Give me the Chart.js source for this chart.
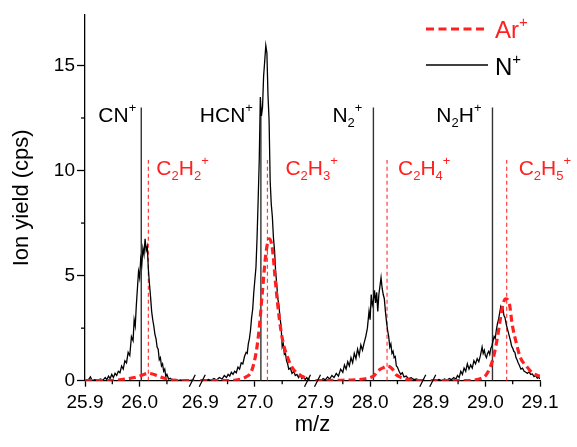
<!DOCTYPE html>
<html><head><meta charset="utf-8">
<script src="https://cdn.jsdelivr.net/npm/chart.js@4.4.1/dist/chart.umd.min.js"></script>
<style>html,body{margin:0;padding:0;background:#fff;}canvas{display:block;}</style>
</head><body>
<canvas id="c" width="577" height="447"></canvas>
<script>
// ---- axis definition (broken x axis: four 0.2-wide windows) ----
const segStarts = [25.9, 26.9, 27.9, 28.9];
const segSpan = 0.2;
const xTickMz = [25.9, 26.0, 26.9, 27.0, 27.9, 28.0, 28.9, 29.0, 29.1];
const xTickLabels = ['25.9', '26.0', '26.9', '27.0', '27.9', '28.0', '28.9', '29.0', '29.1'];
const xMinorMz = [25.95, 26.05, 26.95, 27.05, 27.95, 28.05, 28.95, 29.05];
const yTicks = [0, 5, 10, 15];
const yMinor = [2.5, 7.5, 12.5];
const yMax = 17.4;

// ---- N+ spectrum (black), [m/z, ion yield] ----
const nPlusSeg1 = [[25.900,0.02],[25.905,0.00],[25.910,0.18],[25.913,0.00],[25.918,0.05],[25.923,0.00],[25.928,0.08],[25.933,0.03],[25.937,0.15],[25.940,0.05],[25.943,0.22],[25.946,0.10],[25.949,0.30],[25.952,0.15],[25.955,0.35],[25.958,0.25],[25.961,0.45],[25.964,0.38],[25.967,0.70],[25.970,0.55],[25.973,0.95],[25.976,0.85],[25.979,1.35],[25.982,1.20],[25.985,2.10],[25.988,1.90],[25.990,2.90],[25.992,2.60],[25.994,3.60],[25.996,4.40],[25.998,5.20],[26.000,4.90],[26.002,5.80],[26.004,5.50],[26.006,6.30],[26.008,6.00],[26.010,6.75],[26.012,6.20],[26.014,6.40],[26.016,5.30],[26.018,4.60],[26.020,4.00],[26.022,3.30],[26.024,2.90],[26.026,2.60],[26.028,2.20],[26.030,2.00],[26.032,1.60],[26.034,1.50],[26.036,1.00],[26.038,1.10],[26.040,0.70],[26.042,0.80],[26.044,0.45],[26.046,0.55],[26.048,0.20],[26.050,0.30],[26.053,0.08],[26.056,0.12],[26.060,0.02],[26.065,0.06],[26.070,0.00],[26.075,0.04],[26.080,0.00],[26.085,0.03],[26.090,0.00],[26.095,0.02],[26.100,0.00]];
const nPlusSeg2 = [[26.900,0.00],[26.905,0.04],[26.910,0.00],[26.915,0.06],[26.920,0.02],[26.925,0.10],[26.930,0.03],[26.935,0.15],[26.940,0.08],[26.944,0.25],[26.948,0.15],[26.951,0.30],[26.954,0.22],[26.957,0.40],[26.960,0.30],[26.963,0.45],[26.966,0.38],[26.969,0.65],[26.972,0.55],[26.975,0.85],[26.978,0.80],[26.981,1.15],[26.984,1.35],[26.986,1.30],[26.988,1.75],[26.990,2.00],[26.992,2.40],[26.994,3.00],[26.996,3.40],[26.998,4.20],[27.000,4.80],[27.002,5.40],[27.004,6.80],[27.006,8.60],[27.008,10.5],[27.010,13.5],[27.012,12.6],[27.014,13.0],[27.016,14.5],[27.018,15.2],[27.020,15.95],[27.022,15.6],[27.024,13.6],[27.026,12.4],[27.028,9.50],[27.030,8.40],[27.032,7.80],[27.034,6.80],[27.036,6.20],[27.038,5.20],[27.040,4.60],[27.042,3.90],[27.044,3.60],[27.046,3.00],[27.048,2.60],[27.050,1.60],[27.052,1.75],[27.054,1.25],[27.056,1.30],[27.058,0.95],[27.060,0.80],[27.062,0.55],[27.065,0.60],[27.068,0.35],[27.071,0.45],[27.074,0.25],[27.077,0.30],[27.080,0.15],[27.083,0.28],[27.086,0.10],[27.089,0.20],[27.092,0.05],[27.095,0.15],[27.098,0.03],[27.100,0.10]];
const nPlusSeg3 = [[27.900,0.00],[27.905,0.05],[27.910,0.00],[27.914,0.10],[27.918,0.04],[27.922,0.18],[27.926,0.08],[27.930,0.25],[27.934,0.15],[27.938,0.35],[27.942,0.22],[27.946,0.55],[27.950,0.40],[27.953,0.75],[27.956,0.55],[27.959,0.90],[27.962,0.70],[27.965,1.10],[27.968,0.85],[27.971,1.30],[27.974,1.05],[27.977,1.50],[27.980,1.20],[27.983,1.70],[27.986,1.45],[27.989,1.80],[27.992,2.10],[27.995,2.50],[27.998,3.30],[28.000,2.90],[28.002,4.10],[28.004,3.60],[28.006,3.80],[28.008,4.30],[28.010,3.70],[28.012,4.20],[28.014,3.30],[28.016,4.10],[28.018,4.50],[28.020,4.90],[28.022,4.40],[28.024,4.10],[28.026,3.90],[28.028,3.30],[28.030,2.80],[28.032,2.40],[28.034,2.10],[28.036,1.60],[28.038,1.75],[28.040,1.30],[28.042,1.40],[28.044,1.10],[28.046,1.15],[28.048,0.70],[28.050,0.65],[28.053,0.45],[28.056,0.30],[28.059,0.38],[28.062,0.18],[28.066,0.22],[28.070,0.10],[28.075,0.14],[28.080,0.05],[28.085,0.08],[28.090,0.02],[28.095,0.05],[28.100,0.00]];
const nPlusSeg4 = [[28.900,0.00],[28.905,0.04],[28.910,0.02],[28.915,0.06],[28.920,0.00],[28.925,0.08],[28.930,0.03],[28.934,0.10],[28.938,0.05],[28.942,0.15],[28.946,0.08],[28.949,0.25],[28.952,0.15],[28.955,0.45],[28.958,0.30],[28.961,0.60],[28.964,0.45],[28.967,0.80],[28.970,0.55],[28.973,0.75],[28.976,0.60],[28.979,0.95],[28.982,0.80],[28.985,1.05],[28.988,0.90],[28.991,1.20],[28.994,1.60],[28.996,1.30],[28.998,1.45],[29.000,1.20],[29.002,1.10],[29.004,1.30],[29.006,1.40],[29.008,1.25],[29.010,1.55],[29.012,1.65],[29.014,1.90],[29.016,2.10],[29.018,2.00],[29.020,2.40],[29.022,2.70],[29.024,2.90],[29.026,3.20],[29.028,3.50],[29.030,3.30],[29.032,3.45],[29.034,3.10],[29.036,3.00],[29.038,2.70],[29.040,2.50],[29.042,2.30],[29.044,2.10],[29.046,1.90],[29.048,1.65],[29.050,1.55],[29.052,1.40],[29.054,1.35],[29.056,1.10],[29.058,1.00],[29.060,0.85],[29.062,0.75],[29.065,0.55],[29.068,0.60],[29.071,0.45],[29.074,0.40],[29.077,0.35],[29.080,0.42],[29.083,0.30],[29.086,0.32],[29.089,0.20],[29.092,0.25],[29.095,0.12],[29.098,0.16],[29.100,0.08]];

// ---- Ar+ spectrum (red dashed), [m/z, ion yield] ----
const arPlusSeg1 = [[25.900,0.00],[25.940,0.00],[25.960,0.03],[25.975,0.08],[25.990,0.15],[26.000,0.22],[26.008,0.30],[26.015,0.35],[26.022,0.33],[26.030,0.26],[26.040,0.16],[26.050,0.08],[26.060,0.03],[26.075,0.00],[26.100,0.00]];
const arPlusSeg2 = [[26.900,0.00],[26.950,0.00],[26.965,0.03],[26.975,0.08],[26.985,0.20],[26.993,0.40],[27.002,1.30],[27.008,2.50],[27.014,4.30],[27.020,6.00],[27.026,6.75],[27.032,6.30],[27.038,4.60],[27.045,2.90],[27.051,1.90],[27.060,1.10],[27.069,0.60],[27.084,0.24],[27.100,0.08]];
const arPlusSeg3 = [[27.900,0.00],[27.940,0.02],[27.965,0.03],[27.988,0.08],[28.000,0.15],[28.007,0.24],[28.016,0.50],[28.025,0.63],[28.032,0.70],[28.041,0.55],[28.047,0.30],[28.056,0.16],[28.069,0.05],[28.085,0.00],[28.100,0.00]];
const arPlusSeg4 = [[28.900,0.00],[28.958,0.00],[28.989,0.08],[29.002,0.30],[29.013,0.95],[29.020,1.75],[29.026,2.70],[29.031,3.50],[29.037,3.90],[29.044,3.65],[29.049,2.70],[29.057,1.75],[29.064,1.10],[29.075,0.70],[29.085,0.40],[29.097,0.24],[29.100,0.22]];

// ---- ion assignment sticks ----
const blackIons = ['CN^+', 'HCN^+', 'N_2^+', 'N_2H^+'];
const blackIonMz = [26.003, 27.011, 28.006, 29.013];
const blackStick = 13;
const redIons = ['C_2H_2^+', 'C_2H_3^+', 'C_2H_4^+', 'C_2H_5^+'];
const redIonMz = [26.016, 27.023, 28.031, 29.039];
const redStick = 10.5;

// ---- style config ----
const RED = '#ff2020';
const FONT = '"Liberation Sans", Arial, Helvetica, sans-serif';
const GAP = 0.011;                 // visual gap between windows (axis units)
const blackLabelDx = [-5, -8, -11, -11];
const redLabelDx = [8, 18, 11, 12];

function segIndex(m) { let k = 0; for (let i = 0; i < segStarts.length; i++) if (m >= segStarts[i] - 1e-9) k = i; return k; }
function toV(m) { const k = segIndex(m); return k * (segSpan + GAP) + (m - segStarts[k]); }
const vMax = toV(29.1);

function joinSegments(segs) {
  const out = [];
  segs.forEach((seg, i) => {
    if (i > 0) out.push({ x: i * (segSpan + GAP) - GAP / 2, y: null });
    seg.forEach(([m, v]) => out.push({ x: toV(m), y: v }));
  });
  return out;
}

function drawRich(ctx, s, x, y, align, size, color) {
  const parts = []; let i = 0;
  while (i < s.length) {
    const c = s[i];
    if (c === '_' || c === '^') { parts.push({ t: s[i + 1], k: c }); i += 2; }
    else { parts.push({ t: c, k: '' }); i++; }
  }
  const small = Math.round(size * 0.64);
  const fB = size + 'px ' + FONT, fS = small + 'px ' + FONT;
  let w = 0;
  parts.forEach(p => { ctx.font = p.k ? fS : fB; p.w = ctx.measureText(p.t).width; w += p.w; });
  let cx = align === 'right' ? x - w : x;
  ctx.fillStyle = color; ctx.textAlign = 'left'; ctx.textBaseline = 'alphabetic';
  parts.forEach(p => {
    ctx.font = p.k ? fS : fB;
    const dy = p.k === '_' ? size * 0.25 : (p.k === '^' ? -size * 0.47 : 0);
    ctx.fillText(p.t, cx, y + dy);
    cx += p.w;
  });
}

const datasets = [
  { label: 'Ar+', data: joinSegments([arPlusSeg1, arPlusSeg2, arPlusSeg3, arPlusSeg4]), borderColor: RED, borderWidth: 3.2, borderDash: [7, 4], cubicInterpolationMode: 'monotone', pointRadius: 0, spanGaps: false },
  { label: 'N+', data: joinSegments([nPlusSeg1, nPlusSeg2, nPlusSeg3, nPlusSeg4]), borderColor: '#000', borderWidth: 1.3, tension: 0, pointRadius: 0, spanGaps: false }
];
blackIonMz.forEach((m, i) => datasets.push({ label: blackIons[i], data: [{ x: toV(m), y: 0 }, { x: toV(m), y: blackStick }], borderColor: '#333', borderWidth: 1.4, pointRadius: 0 }));
redIonMz.forEach((m, i) => datasets.push({ label: redIons[i], data: [{ x: toV(m), y: 0 }, { x: toV(m), y: redStick }], borderColor: 'rgba(255,40,40,0.9)', borderWidth: 1.2, borderDash: [4, 3], pointRadius: 0 }));

const hiddenTick = new Set([2, 4, 6]); // labels at window starts sit on breaks

const overlay = {
  id: 'overlay',
  afterDraw(chart) {
    const ctx = chart.ctx, xs = chart.scales.x, ys = chart.scales.y;
    const y0 = ys.getPixelForValue(0);
    ctx.save();
    ctx.strokeStyle = '#000'; ctx.lineWidth = 1.3;
    // minor ticks
    xMinorMz.forEach(m => { const px = xs.getPixelForValue(toV(m)); ctx.beginPath(); ctx.moveTo(px, y0); ctx.lineTo(px, y0 + 3.5); ctx.stroke(); });
    yMinor.forEach(v => { const py = ys.getPixelForValue(v); ctx.beginPath(); ctx.moveTo(xs.left, py); ctx.lineTo(xs.left - 4, py); ctx.stroke(); });
    // axis break marks
    for (let k = 1; k < segStarts.length; k++) {
      const cx = xs.getPixelForValue(k * (segSpan + GAP) - GAP / 2);
      ctx.lineWidth = 1.2;
      [-5, 5].forEach(d => { ctx.beginPath(); ctx.moveTo(cx + d - 3, y0 + 6); ctx.lineTo(cx + d + 3, y0 - 6); ctx.stroke(); });
    }
    // stick labels
    blackIonMz.forEach((m, i) => drawRich(ctx, blackIons[i], xs.getPixelForValue(toV(m)) + blackLabelDx[i], 121.5, 'right', 21, '#000'));
    redIonMz.forEach((m, i) => drawRich(ctx, redIons[i], xs.getPixelForValue(toV(m)) + redLabelDx[i], 175, 'left', 21, RED));
    // legend
    ctx.setLineDash([8, 4.5]); ctx.strokeStyle = RED; ctx.lineWidth = 3;
    ctx.beginPath(); ctx.moveTo(426, 29); ctx.lineTo(488, 29); ctx.stroke();
    ctx.setLineDash([]); ctx.strokeStyle = '#000'; ctx.lineWidth = 1.3;
    ctx.beginPath(); ctx.moveTo(426, 65); ctx.lineTo(488, 65); ctx.stroke();
    drawRich(ctx, 'Ar^+', 495, 38, 'left', 24, RED);
    drawRich(ctx, 'N^+', 495, 75, 'left', 24, '#000');
    ctx.restore();
  }
};

new Chart(document.getElementById('c'), {
  type: 'line',
  data: { datasets },
  options: {
    responsive: false, animation: false, events: [],
    layout: { padding: { left: 9, right: 37, top: 15, bottom: 9 } },
    plugins: { legend: { display: false }, tooltip: { enabled: false } },
    scales: {
      x: {
        type: 'linear', min: 0, max: vMax,
        afterBuildTicks: s => { s.ticks = xTickMz.map(m => ({ value: toV(m) })); },
        afterFit: s => { s.height = 57.3; },
        ticks: { autoSkip: false, maxRotation: 0, minRotation: 0, padding: 5, color: '#000', font: { family: FONT, size: 19 }, callback: (v, i) => xTickLabels[i] },
        grid: { display: true, drawOnChartArea: false, drawTicks: true, tickLength: 6, tickWidth: 1.3, tickColor: c => hiddenTick.has(c.index) ? 'rgba(0,0,0,0)' : '#000' },
        border: { display: true, color: '#000', width: 1.3 },
        title: { display: true, text: 'm/z', color: '#000', font: { family: FONT, size: 22 }, padding: 0 }
      },
      y: {
        type: 'linear', min: 0, max: yMax,
        afterBuildTicks: s => { s.ticks = yTicks.map(v => ({ value: v })); },
        afterFit: s => { s.width = 76; },
        ticks: { padding: 2, color: '#000', font: { family: FONT, size: 19 } },
        grid: { display: true, drawOnChartArea: false, drawTicks: true, tickLength: 8, tickWidth: 1.3, tickColor: '#000' },
        border: { display: true, color: '#000', width: 1.3 },
        title: { display: true, text: 'Ion yield (cps)', color: '#000', font: { family: FONT, size: 22 }, padding: 0 }
      }
    }
  },
  plugins: [overlay]
});
</script>
</body></html>
